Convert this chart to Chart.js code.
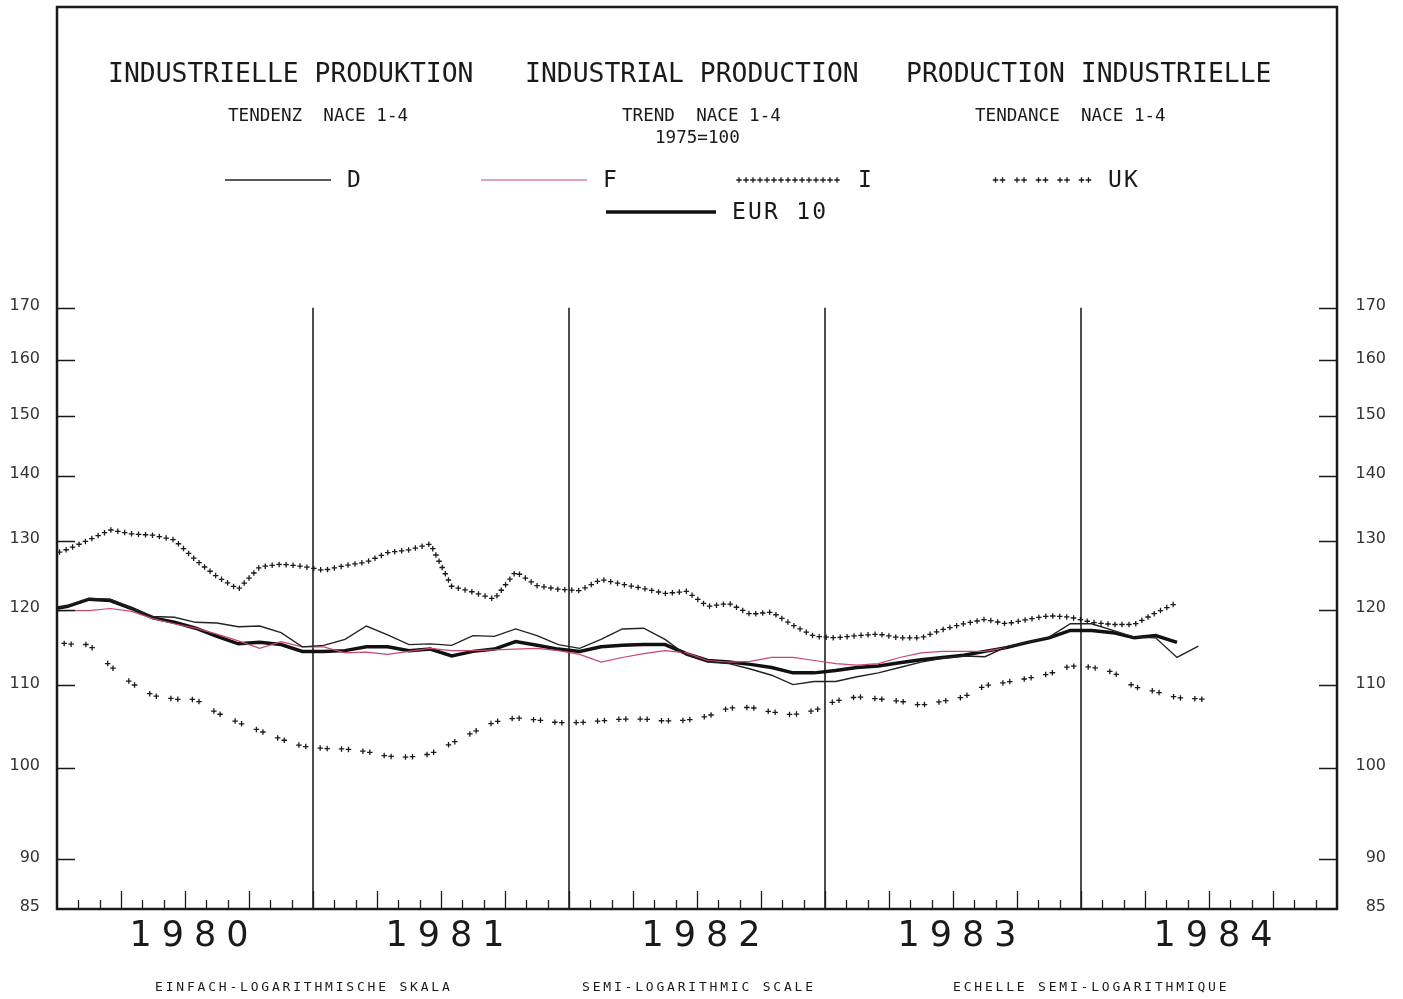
<!DOCTYPE html>
<html>
<head>
<meta charset="utf-8">
<title>Industrielle Produktion</title>
<script src="https://cdn.jsdelivr.net/npm/chart.js@4.4.1/dist/chart.umd.min.js"></script>
<style>
    body { margin: 0; background: #fff; overflow: hidden; }
    #wrap { position: relative; width: 1403px; height: 999px; }
    #chart { position: absolute; left: 0; top: 0; }
    .txt { position: absolute; white-space: pre; color: #1a1a1a; font-family: 'DejaVu Sans Mono', monospace; line-height: 1; }
    .title { font-size: 26.4px; }
    .sub { font-size: 17.6px; }
    .foot { font-size: 13px; letter-spacing: 2.8px; }
    .leg { position: absolute; display: flex; align-items: center; }
    .leg span { font-family: 'DejaVu Sans Mono', monospace; font-size: 23px; letter-spacing: 2.2px; color: #1a1a1a; margin-left: 16px; line-height: 1; }
</style>
</head>
<body>
<div id="wrap">
    <canvas id="chart" width="1403" height="999"></canvas>

    <div class="txt title" style="left:108px; top:60px;">INDUSTRIELLE PRODUKTION</div>
    <div class="txt title" style="left:525px; top:60px;">INDUSTRIAL PRODUCTION</div>
    <div class="txt title" style="left:906px; top:60px;">PRODUCTION INDUSTRIELLE</div>

    <div class="txt sub" style="left:228px; top:107px;">TENDENZ  NACE 1-4</div>
    <div class="txt sub" style="left:622px; top:107px;">TREND  NACE 1-4</div>
    <div class="txt sub" style="left:655px; top:129px;">1975=100</div>
    <div class="txt sub" style="left:975px; top:107px;">TENDANCE  NACE 1-4</div>

    <div id="legend"></div>

    <div class="txt foot" style="left:155px; top:980px;">EINFACH-LOGARITHMISCHE SKALA</div>
    <div class="txt foot" style="left:582px; top:980px;">SEMI-LOGARITHMIC SCALE</div>
    <div class="txt foot" style="left:953px; top:980px;">ECHELLE SEMI-LOGARITHMIQUE</div>
</div>

<script>
// Trend indices, 1975=100, one value per month (mid-month), first value is Dec 1979
const seriesD = [120.0, 120.6, 121.6, 121.5, 120.2, 119.1, 119.0, 118.3, 118.2, 117.7, 117.8, 116.9, 115.0, 115.2,
    116.0, 117.8, 116.6, 115.3, 115.4, 115.2, 116.5, 116.4, 117.4, 116.5, 115.3, 114.8, 116.0, 117.4, 117.5,
    116.0, 113.9, 113.0, 112.8, 112.1, 111.3, 110.1, 110.5, 110.5, 111.1, 111.6, 112.3, 113.0, 113.5, 113.8,
    113.7, 115.0, 115.6, 116.3, 118.1, 118.1, 117.2, 116.3, 116.2, 113.6, 115.1];
const seriesF = [119.8, 119.9, 119.9, 120.2, 119.8, 118.8, 118.1, 117.5, 116.7, 115.8, 114.8, 115.7, 115.0, 115.0,
    114.2, 114.3, 114.0, 114.4, 114.8, 114.5, 114.5, 114.6, 114.7, 114.8, 114.5, 114.0, 113.0, 113.6, 114.1,
    114.5, 114.2, 113.2, 113.0, 113.1, 113.6, 113.6, 113.2, 112.8, 112.6, 112.8, 113.6, 114.2, 114.4, 114.4,
    114.4, 114.9];
const seriesI = [127.6, 128.7, 130.1, 131.6, 131.0, 130.8, 130.1, 127.1, 124.7, 122.9, 126.1, 126.5, 126.2, 125.6,
    126.3, 126.8, 128.2, 128.6, 129.5, 123.3, 122.5, 121.5, 125.4, 123.4, 122.9, 122.7, 124.3, 123.6, 123.0,
    122.3, 122.6, 120.5, 120.9, 119.4, 119.7, 117.9, 116.4, 116.2, 116.5, 116.7, 116.2, 116.2, 117.3, 118.1,
    118.7, 118.1, 118.7, 119.2, 119.0, 118.3, 118.0, 118.0, 119.6, 121.0];
const seriesUK = [115.7, 115.4, 115.1, 112.5, 110.3, 108.8, 108.3, 108.1, 106.6, 105.4, 104.4, 103.4, 102.6, 102.3,
    102.2, 101.9, 101.4, 101.3, 101.7, 102.9, 104.2, 105.4, 105.9, 105.7, 105.4, 105.4, 105.6, 105.8, 105.8,
    105.6, 105.7, 106.2, 107.1, 107.2, 106.7, 106.4, 106.9, 108.0, 108.5, 108.3, 108.0, 107.6, 108.0, 108.6,
    109.9, 110.4, 110.9, 111.5, 112.4, 112.3, 111.6, 109.9, 109.2, 108.5, 108.3];
const seriesEUR = [120.0, 120.5, 121.5, 121.3, 120.2, 118.9, 118.3, 117.5, 116.4, 115.4, 115.6, 115.3, 114.4, 114.4,
    114.5, 115.0, 115.0, 114.5, 114.7, 113.8, 114.4, 114.7, 115.7, 115.2, 114.7, 114.4, 115.0, 115.2, 115.3,
    115.3, 114.1, 113.2, 113.0, 112.7, 112.3, 111.6, 111.6, 111.9, 112.3, 112.5, 112.9, 113.3, 113.6, 113.9,
    114.4, 114.9, 115.6, 116.2, 117.2, 117.2, 116.9, 116.2, 116.5, 115.6];

const years = ['1980', '1981', '1982', '1983', '1984'];
const yTicks = [85, 90, 100, 110, 120, 130, 140, 150, 160, 170];
const yearEnds = [12, 24, 36, 48];   // months since Jan 1980
const yearLineRange = [85, 170];

// month position of each value (months since Jan 1980, mid-month)
const monthPos = seriesD.map((v, k) => k - 0.5);
const toPoints = vals => vals.map((v, k) => ({ x: monthPos[k], y: v }));

const yearLines = [];
yearEnds.forEach(m => {
    yearLines.push({ x: m, y: yearLineRange[0] }, { x: m, y: yearLineRange[1] }, { x: m, y: null });
});

// crosses along a polyline: 'dense' = evenly spaced, 'pairs' = two crosses on each point
function drawMarks(ctx, pts, style) {
    const s = style.size / 2;
    const cross = (x, y) => {
        ctx.moveTo(x - s, y); ctx.lineTo(x + s, y);
        ctx.moveTo(x, y - s); ctx.lineTo(x, y + s);
    };
    ctx.strokeStyle = style.color;
    ctx.lineWidth = style.width;
    ctx.beginPath();
    if (style.kind === 'dense') {
        let carry = 0;
        for (let k = 1; k < pts.length; k++) {
            const a = pts[k - 1], b = pts[k];
            const len = Math.hypot(b.x - a.x, b.y - a.y);
            let d = carry;
            while (d <= len) {
                const t = len ? d / len : 0;
                cross(a.x + (b.x - a.x) * t, a.y + (b.y - a.y) * t);
                d += style.gap;
            }
            carry = d - len;
        }
    } else {
        pts.forEach((p, k) => {
            const a = pts[Math.max(k - 1, 0)], b = pts[Math.min(k + 1, pts.length - 1)];
            const len = Math.hypot(b.x - a.x, b.y - a.y) || 1;
            const ux = (b.x - a.x) / len * style.gap / 2, uy = (b.y - a.y) / len * style.gap / 2;
            cross(p.x - ux, p.y - uy);
            cross(p.x + ux, p.y + uy);
        });
    }
    ctx.stroke();
}

const crossMarks = {
    id: 'crossMarks',
    afterDatasetsDraw(chart) {
        const { ctx, chartArea: a } = chart;
        ctx.save();
        ctx.beginPath();
        ctx.rect(a.left, a.top, a.right - a.left, a.bottom - a.top);
        ctx.clip();
        chart.data.datasets.forEach((ds, i) => {
            if (!ds.marks) return;
            const pts = chart.getDatasetMeta(i).data.filter(p => !p.skip).map(p => ({ x: p.x, y: p.y }));
            drawMarks(ctx, pts, ds.marks);
        });
        ctx.restore();
        // wide year labels on the x axis (drawn after this hook)
        ctx.letterSpacing = '10px';
    },
    afterDraw(chart) {
        const { ctx, chartArea: a, scales } = chart;
        ctx.letterSpacing = '0px';
        ctx.save();
        ctx.strokeStyle = '#1a1a1a';
        ctx.lineWidth = 1.3;
        ctx.beginPath();
        // inward value ticks on both sides
        yTicks.forEach(v => {
            if (v === yTicks[0]) return;
            const y = Math.round(scales.y.getPixelForValue(v)) + 0.5;
            ctx.moveTo(a.left, y); ctx.lineTo(a.left + 18, y);
            ctx.moveTo(a.right - 18, y); ctx.lineTo(a.right, y);
        });
        // month ticks, longer every quarter
        for (let m = 1; m < 60; m++) {
            const x = Math.round(scales.x.getPixelForValue(m)) + 0.5;
            ctx.moveTo(x, a.bottom);
            ctx.lineTo(x, a.bottom - (m % 3 === 0 ? 18 : 9));
        }
        ctx.stroke();
        ctx.lineWidth = 2.5;
        ctx.strokeRect(a.left, a.top, a.right - a.left, a.bottom - a.top);
        ctx.restore();
    }
};

function fixSize(w, h) {
    return scale => {
        if (w !== null) scale.width = w;
        if (h !== null) scale.height = h;
        scale.paddingTop = 0; scale.paddingBottom = 0;
        scale.paddingLeft = 0; scale.paddingRight = 0;
    };
}

const yAxis = (position, width, crossAlign) => ({
    type: 'logarithmic',
    position: position,
    min: 85,
    max: 240.5,
    bounds: 'data',
    grid: { display: false, drawTicks: false },
    border: { display: false },
    afterBuildTicks: scale => { scale.ticks = yTicks.map(v => ({ value: v })); },
    afterFit: fixSize(width, null),
    ticks: {
        padding: 17,
        crossAlign: crossAlign,
        labelOffset: -2,
        color: '#333',
        font: { family: 'DejaVu Sans', size: 16 },
        callback: v => String(v)
    }
});

Chart.defaults.font.family = 'DejaVu Sans';

const chart = new Chart(document.getElementById('chart'), {
    type: 'line',
    data: {
        datasets: [
            { label: 'D', data: toPoints(seriesD), borderColor: '#222', borderWidth: 1.4 },
            { label: 'F', data: toPoints(seriesF), borderColor: '#c9486a', borderWidth: 1.2 },
            { label: 'I', data: toPoints(seriesI), borderColor: 'rgba(0,0,0,0)', borderWidth: 0,
              marks: { kind: 'dense', gap: 7, size: 5.5, width: 1.3, color: '#1a1a1a' } },
            { label: 'UK', data: toPoints(seriesUK), borderColor: 'rgba(0,0,0,0)', borderWidth: 0,
              marks: { kind: 'pairs', gap: 7, size: 5.5, width: 1.3, color: '#1a1a1a' } },
            { label: 'EUR 10', data: toPoints(seriesEUR), borderColor: '#111', borderWidth: 3.5 },
            { label: '', data: yearLines, borderColor: '#111', borderWidth: 1.5, spanGaps: false }
        ]
    },
    options: {
        responsive: false,
        devicePixelRatio: 1,
        animation: false,
        elements: { point: { radius: 0 }, line: { tension: 0 } },
        layout: { padding: { top: 7, right: 17, bottom: 0, left: 0 } },
        plugins: { legend: { display: false }, tooltip: { enabled: false } },
        scales: {
            x: {
                type: 'linear',
                min: 0,
                max: 60,
                bounds: 'data',
                grid: { display: false, drawTicks: false },
                border: { display: false },
                afterBuildTicks: scale => { scale.ticks = years.map((y, i) => ({ value: 6 + 12 * i })); },
                afterFit: fixSize(null, 90),
                ticks: {
                    z: 1,
                    padding: 7,
                    labelOffset: 9,
                    maxRotation: 0,
                    autoSkip: false,
                    color: '#1a1a1a',
                    font: { family: 'DejaVu Sans', size: 35 },
                    callback: (v, i) => years[i]
                }
            },
            y: yAxis('left', 57, 'near'),
            y2: yAxis('right', 49, 'far')
        }
    },
    plugins: [crossMarks]
});

// legend built from the datasets
const legendLayout = [
    { ds: 0, left: 225, top: 168, w: 106 },
    { ds: 1, left: 481, top: 168, w: 106 },
    { ds: 2, left: 736, top: 168, w: 106 },
    { ds: 3, left: 992, top: 168, w: 100 },
    { ds: 4, left: 606, top: 200, w: 110 }
];
const legendBox = document.getElementById('legend');
legendLayout.forEach(item => {
    const ds = chart.data.datasets[item.ds];
    const row = document.createElement('div');
    row.className = 'leg';
    row.style.left = item.left + 'px';
    row.style.top = item.top + 'px';
    const c = document.createElement('canvas');
    c.width = item.w; c.height = 14;
    const ctx = c.getContext('2d');
    if (ds.marks) {
        const pts = ds.marks.kind === 'dense'
            ? [{ x: 3, y: 7 }, { x: item.w - 3, y: 7 }]
            : [0, 1, 2, 3, 4].map(k => ({ x: 7 + k * 21.5, y: 7 }));
        drawMarks(ctx, pts, ds.marks);
    } else {
        ctx.strokeStyle = ds.borderColor;
        ctx.lineWidth = ds.borderWidth;
        ctx.beginPath();
        ctx.moveTo(0, 7); ctx.lineTo(item.w, 7);
        ctx.stroke();
    }
    const label = document.createElement('span');
    label.textContent = ds.label;
    row.appendChild(c);
    row.appendChild(label);
    legendBox.appendChild(row);
});
</script>
</body>
</html>
